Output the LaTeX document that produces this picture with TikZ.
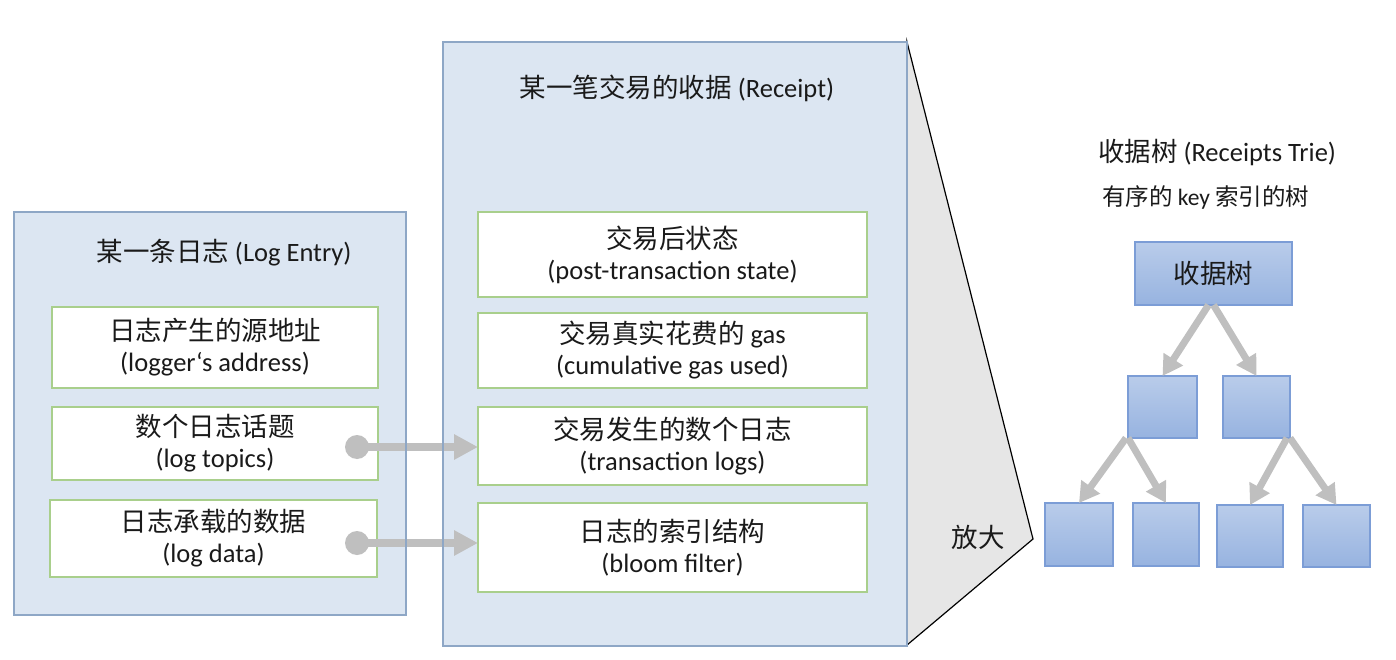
\documentclass[tikz,border=0pt]{standalone}
\usepackage{fontspec}
\setmainfont{Carlito}
\newfontfamily\cjk[Scale=1.0]{Noto Sans CJK SC}
\usetikzlibrary{arrows.meta}
\definecolor{outerfill}{HTML}{DCE6F2}
\definecolor{outerline}{HTML}{8EA7C6}
\definecolor{innerline}{HTML}{A9CF8C}
\definecolor{arrowgrey}{HTML}{BFBFBF}
\definecolor{treetop}{HTML}{B9CCEA}
\definecolor{treebot}{HTML}{97B3E0}
\definecolor{treeline}{HTML}{7C9DD6}
\definecolor{txt}{HTML}{1A1A1A}
\definecolor{triangfill}{HTML}{E6E6E6}
\tikzset{
  base/.style={font=\fontsize{26.5}{31}\selectfont, text=txt, inner sep=0pt, outer sep=0pt},
  outerbox/.style={base, fill=outerfill, draw=outerline, line width=1.2pt},
  outerborder/.style={draw=outerline, line width=1.2pt},
  ibox/.style={base, fill=white, draw=innerline, line width=1.2pt, align=center},
  tbox/.style={base, top color=treetop, bottom color=treebot, draw=treeline, line width=1.2pt},
  title/.style={base},
  linkarrow/.style={draw=arrowgrey, line width=8pt, -{Triangle[length=24pt,width=24pt]}},
  linkdot/.style={circle, fill=arrowgrey, minimum size=24pt, inner sep=0pt},
  treearrow/.style={draw=arrowgrey, line width=7pt, -{Triangle[length=20pt,width=22pt]}},
}
\begin{document}
\begin{tikzpicture}[x=1pt,y=-1pt]
\useasboundingbox (0,0) rectangle (1396,660);
% zoom triangle
\path[fill=triangfill, draw=black, line width=1.2pt] (907,42) -- (1033,539) -- (907,645) -- cycle;
\node[base] (zoomlbl) at (978,537) {{\cjk 放大}};
% outer boxes
\node[outerbox, minimum width=392pt, minimum height=403pt] (logbox) at (210,413.5) {};
\node[outerbox, minimum width=464pt, minimum height=604pt] (rcbox) at (675,344) {};
\node[title] (logtitle) at (224,253) {{\cjk 某一条日志} (Log Entry)};
\node[title] (rctitle) at (677,88) {{\cjk 某一笔交易的收据} (Receipt)};
% log entry items
\node[ibox, minimum width=326pt, minimum height=81pt] (laddr) at (215,347.5) {{\cjk 日志产生的源地址}\\(logger‘s address)};
\node[ibox, minimum width=326pt, minimum height=73pt] (ltopics) at (215,443.5) {{\cjk 数个日志话题}\\(log topics)};
\node[ibox, minimum width=327pt, minimum height=77pt] (ldata) at (213.5,538.5) {{\cjk 日志承载的数据}\\(log data)};
% receipt items
\node[ibox, minimum width=389pt, minimum height=85pt] (rpost) at (672.5,254.5) {{\cjk 交易后状态}\\(post-transaction state)};
\node[ibox, minimum width=389pt, minimum height=75pt] (rgas) at (672.5,350.5) {{\cjk 交易真实花费的} gas\\(cumulative gas used)};
\node[ibox, minimum width=389pt, minimum height=78pt] (rlogs) at (672.5,446) {{\cjk 交易发生的数个日志}\\(transaction logs)};
\node[ibox, minimum width=389pt, minimum height=89pt] (rbloom) at (672.5,547.5) {{\cjk 日志的索引结构}\\(bloom filter)};
% links
\node[linkdot] (dtopics) at (357,447) {};
\node[linkdot] (ddata) at (357,543) {};
\draw[linkarrow] (dtopics.center) -- (rlogs.west |- dtopics.center);
\draw[linkarrow] (ddata.center) -- (rbloom.west |- ddata.center);
\draw[outerborder] (logbox.north west) rectangle (logbox.south east);
\draw[outerborder] (rcbox.north west) rectangle (rcbox.south east);
% receipts trie
\node[title, anchor=west] (trietitle) at (1098,153) {{\cjk 收据树} (Receipts Trie)};
\node[base, anchor=west, font=\fontsize{23.5}{27}\selectfont] (triesub) at (1102,197) {{\cjk 有序的} key {\cjk 索引的树}};
\node[tbox, minimum width=157pt, minimum height=63pt] (root) at (1213.5,273.5) {{\cjk 收据树}};
\node[tbox, minimum width=69pt, minimum height=62pt] (ml) at (1162.5,407) {};
\node[tbox, minimum width=67pt, minimum height=62pt] (mr) at (1256.5,407) {};
\node[tbox, minimum width=68pt, minimum height=63pt] (l1) at (1079,534.5) {};
\node[tbox, minimum width=66pt, minimum height=63pt] (l2) at (1166,534.5) {};
\node[tbox, minimum width=66pt, minimum height=62pt] (l3) at (1250,536) {};
\node[tbox, minimum width=67pt, minimum height=62pt] (l4) at (1336.5,536) {};
\draw[treearrow] ([xshift=-5pt]root.south) -- (ml.north);
\draw[treearrow] ([xshift=0pt]root.south) -- (mr.north);
\draw[treearrow] ([xshift=-2pt]ml.south west) -- (l1.north);
\draw[treearrow] ([xshift=0pt]ml.south west) -- (l2.north);
\draw[treearrow] ([xshift=-3pt]mr.south east) -- (l3.north);
\draw[treearrow] ([xshift=0pt]mr.south east) -- (l4.north);
\end{tikzpicture}
\end{document}
